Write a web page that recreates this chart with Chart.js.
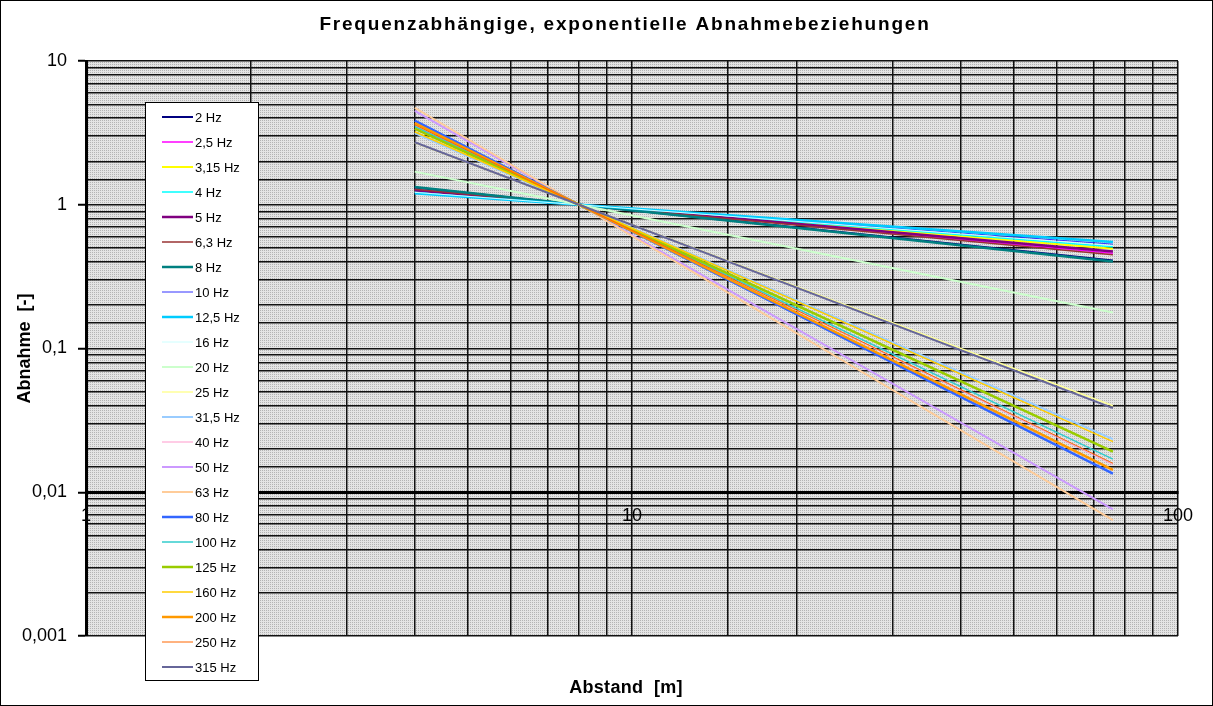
<!DOCTYPE html>
<html>
<head>
<meta charset="utf-8">
<script src="https://cdn.jsdelivr.net/npm/chart.js@4.4.1/dist/chart.umd.min.js"></script>
<style>
  html, body { margin: 0; padding: 0; background: #fff; }
  #wrap { width: 1213px; height: 706px; }
</style>
</head>
<body>
<div id="wrap"><canvas id="abnahmeChart" width="1213" height="706"></canvas></div>
<script>
// Abstände [m] der Stützpunkte
const abstaende = [4, 8, 76];

// Frequenzbänder
const frequenzen = ['2 Hz', '2,5 Hz', '3,15 Hz', '4 Hz', '5 Hz', '6,3 Hz', '8 Hz', '10 Hz', '12,5 Hz', '16 Hz',
    '20 Hz', '25 Hz', '31,5 Hz', '40 Hz', '50 Hz', '63 Hz', '80 Hz', '100 Hz', '125 Hz', '160 Hz',
    '200 Hz', '250 Hz', '315 Hz'];

// Abnahme bei 4 m, 8 m (Bezug) und 76 m
const abnahme4m = [1.32, 1.27, 1.24, 1.23, 1.26, 1.28, 1.33, 1.21, 1.20, 1.22,
    1.70, 2.70, 3.15, 3.55, 4.50, 4.73, 3.85, 3.50, 3.38, 3.22,
    3.70, 3.60, 2.72];
const abnahme8m = [1, 1, 1, 1, 1, 1, 1, 1, 1, 1, 1, 1, 1, 1, 1, 1, 1, 1, 1, 1, 1, 1, 1];
const abnahme76m = [0.41, 0.46, 0.494, 0.51, 0.473, 0.449, 0.403, 0.532, 0.55, 0.52,
    0.178, 0.040, 0.0234, 0.0156, 0.0076, 0.0064, 0.0135, 0.017, 0.0192, 0.0225,
    0.0143, 0.0159, 0.0385];

// Achsenbeschriftungen
const yTickLabels = { 10: '10', 1: '1', 0.1: '0,1', 0.01: '0,01', 0.001: '0,001' };
const xTickLabels = { 1: '1', 10: '10', 100: '100' };

// Darstellung (Excel-Standardpalette)
const farben = ['#000080', '#FF00FF', '#FFFF00', '#00FFFF', '#800080', '#993333', '#008080', '#3333FF', '#00CCFF', '#CCFFFF',
    '#CCFFCC', '#FFFF99', '#99CCFF', '#FF99CC', '#CC99FF', '#FFCC99', '#3366FF', '#33CCCC', '#99CC00', '#FFCC00',
    '#FF9900', '#FF6600', '#666699'];
const linienbreiten = [2, 1.5, 2, 1.5, 2.5, 1.5, 2.5, 1, 2.5, 1,
    2, 1.5, 2, 1, 2, 2, 2.5, 1.5, 2.5, 1.5,
    2.5, 1, 2];

const schrift = 'Arial, "Liberation Sans", sans-serif';

document.addEventListener('DOMContentLoaded', function() {
    // Punktraster für den Hintergrund der Zeichenfläche
    const musterCanvas = document.createElement('canvas');
    musterCanvas.width = 2;
    musterCanvas.height = 2;
    const mctx = musterCanvas.getContext('2d');
    mctx.fillStyle = '#e4e4e4';
    mctx.fillRect(0, 0, 2, 2);
    mctx.fillStyle = '#b4b4b4';
    mctx.fillRect(0, 0, 1, 1);

    const datasets = frequenzen.map((f, i) => ({
        label: f,
        data: abstaende.map((x, k) => ({ x: x, y: [abnahme4m[i], abnahme8m[i], abnahme76m[i]][k] })),
        borderColor: farben[i],
        backgroundColor: farben[i],
        borderWidth: linienbreiten[i],
        pointRadius: 0,
        fill: false,
        tension: 0,
        order: -i
    }));

    const dekor = {
        id: 'dekor',
        beforeDraw(chart) {
            const { ctx, chartArea: a } = chart;
            ctx.save();
            ctx.fillStyle = ctx.createPattern(musterCanvas, 'repeat');
            ctx.fillRect(a.left, a.top, a.right - a.left, a.bottom - a.top);
            ctx.restore();
        },
        afterDraw(chart) {
            const ctx = chart.ctx;
            ctx.save();
            // Legende
            ctx.fillStyle = '#fff';
            ctx.fillRect(145, 102, 113, 578);
            ctx.strokeStyle = '#000';
            ctx.lineWidth = 1;
            ctx.strokeRect(145.5, 102.5, 113, 578);
            ctx.font = '13px ' + schrift;
            ctx.textBaseline = 'middle';
            ctx.textAlign = 'left';
            chart.data.datasets.forEach((ds, i) => {
                const y = 117 + i * 25;
                ctx.strokeStyle = ds.borderColor;
                ctx.lineWidth = ds.borderWidth;
                ctx.beginPath();
                ctx.moveTo(162, y);
                ctx.lineTo(193, y);
                ctx.stroke();
                ctx.fillStyle = '#000';
                ctx.fillText(ds.label, 195, y + 1);
            });
            // Titel und x-Achsentitel
            ctx.fillStyle = '#000';
            ctx.textAlign = 'center';
            ctx.font = 'bold 19px ' + schrift;
            ctx.letterSpacing = '1.8px';
            ctx.fillText('Frequenzabhängige, exponentielle Abnahmebeziehungen', 625, 25);
            ctx.font = 'bold 18px ' + schrift;
            ctx.letterSpacing = '0.3px';
            ctx.fillText('Abstand  [m]', 626, 688);
            ctx.letterSpacing = '0px';
            // Rahmen
            ctx.strokeStyle = '#000';
            ctx.lineWidth = 1;
            ctx.strokeRect(0.5, 0.5, 1212, 705);
            ctx.restore();
        }
    };

    new Chart(document.getElementById('abnahmeChart'), {
        type: 'line',
        data: { datasets: datasets },
        options: {
            responsive: false,
            animation: false,
            layout: { padding: { left: 0, right: 35, top: 61, bottom: 70 } },
            plugins: {
                legend: { display: false },
                tooltip: { enabled: false },
                title: { display: false }
            },
            scales: {
                x: {
                    type: 'logarithmic',
                    min: 1,
                    max: 100,
                    position: { y: 0.01 },
                    border: { color: '#000', width: 3 },
                    grid: { color: '#111', lineWidth: 1.5, drawTicks: false },
                    ticks: {
                        autoSkip: false,
                        maxRotation: 0,
                        padding: 13,
                        color: '#000',
                        font: { family: schrift, size: 18 },
                        callback: function(value) {
                            return xTickLabels[value] !== undefined ? xTickLabels[value] : '';
                        }
                    }
                },
                y: {
                    type: 'logarithmic',
                    min: 0.001,
                    max: 10,
                    afterFit: function(scale) { scale.width = 86; },
                    border: { color: '#000', width: 3 },
                    grid: {
                        color: '#111',
                        lineWidth: 1.5,
                        tickLength: 8,
                        tickWidth: 2,
                        tickColor: function(c) {
                            return c.tick && yTickLabels[c.tick.value] !== undefined ? '#000' : 'rgba(0,0,0,0)';
                        }
                    },
                    ticks: {
                        autoSkip: false,
                        padding: 11,
                        color: '#000',
                        font: { family: schrift, size: 18 },
                        callback: function(value) {
                            return yTickLabels[value] !== undefined ? yTickLabels[value] : '';
                        }
                    },
                    title: {
                        display: true,
                        text: 'Abnahme  [-]',
                        color: '#000',
                        font: { family: schrift, size: 18, weight: 'bold' },
                        padding: { top: 14, bottom: 0 }
                    }
                }
            }
        },
        plugins: [dekor]
    });
});
</script>
</body>
</html>
